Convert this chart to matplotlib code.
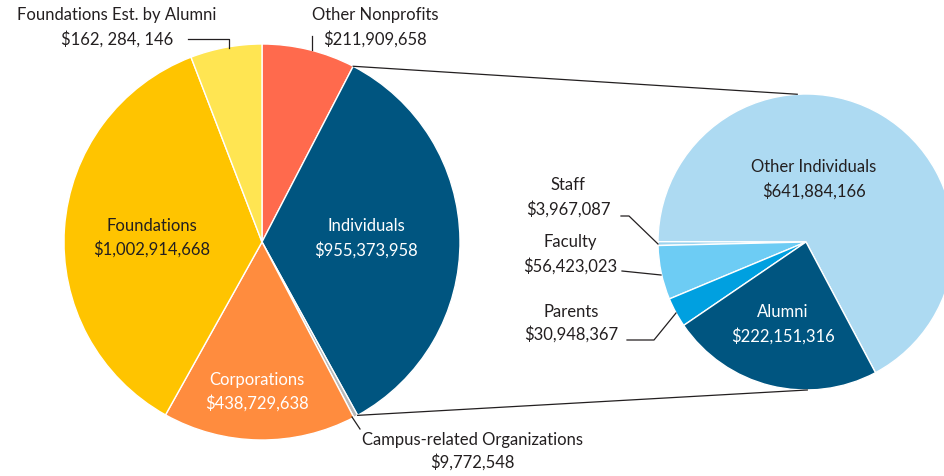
import numpy as np
import matplotlib

matplotlib.use("Agg")
import matplotlib.pyplot as plt

plt.rcParams["font.family"] = ["Lato", "DejaVu Sans"]

# left pie: all sources (clockwise from 12 o'clock)
src_names = ["Other Nonprofits", "Individuals", "Campus-related Organizations",
             "Corporations", "Foundations", "Foundations Est. by Alumni"]
src_values = [211909658, 955373958, 9772548, 438729638, 1002914668, 162284146]
src_colors = ["#FF6A4D", "#005580", "#B9B9B9", "#FF8C3E", "#FFC400", "#FFE552"]

# right pie: breakdown of individuals (counter-clockwise)
ind_names = ["Other Individuals", "Staff", "Faculty", "Parents", "Alumni"]
ind_values = [641884166, 3967087, 56423023, 30948367, 222151316]
ind_colors = ["#ADDAF2", "#9CD3EE", "#6DCCF4", "#00A0E0", "#005580"]

W, H = 944, 477
fig = plt.figure(figsize=(W / 100, H / 100), dpi=100)
ax = fig.add_axes([0, 0, 1, 1])

L_C, L_R = (262, H - 243), 198
R_C, R_R = (806, H - 243), 148

ax.pie(src_values, colors=src_colors, startangle=90, counterclock=False,
       center=L_C, radius=L_R, wedgeprops=dict(edgecolor="white", linewidth=1))
ax.pie(ind_values, colors=ind_colors, startangle=-62, counterclock=True,
       center=R_C, radius=R_R, wedgeprops=dict(edgecolor="white", linewidth=1))

ax.set_xlim(0, W)
ax.set_ylim(0, H)
ax.set_aspect("equal")
ax.axis("off")


def yy(y):
    return H - y


# connector lines from the Individuals wedge to the breakdown pie
frac = np.cumsum([0] + src_values) / sum(src_values)
a_top = np.deg2rad(90 - 360 * frac[1])
a_bot = np.deg2rad(90 - 360 * frac[2])
p_top = (L_C[0] + L_R * np.cos(a_top), L_C[1] + L_R * np.sin(a_top))
p_bot = (L_C[0] + L_R * np.cos(a_bot), L_C[1] + L_R * np.sin(a_bot))
q_top = (R_C[0] + R_R * np.cos(np.deg2rad(93.4)), R_C[1] + R_R * np.sin(np.deg2rad(93.4)))
q_bot = (R_C[0] + R_R * np.cos(np.deg2rad(-89.5)), R_C[1] + R_R * np.sin(np.deg2rad(-89.5)))
lk = dict(color="#231F20", lw=0.9)
ax.plot([p_top[0], q_top[0]], [p_top[1], q_top[1]], **lk)
ax.plot([p_bot[0], q_bot[0]], [p_bot[1], q_bot[1]], **lk)

# leader lines
ax.plot([188, 229, 229], [yy(40), yy(40), yy(49)], **lk)
ax.plot([312, 312], [yy(37), yy(51)], **lk)
ax.plot([352, 360], [yy(418), yy(430)], **lk)
ax.plot([621, 629, 658], [yy(217), yy(217), yy(245)], **lk)
ax.plot([622, 661], [yy(272), yy(276)], **lk)
ax.plot([627, 654, 676], [yy(341), yy(341), yy(314)], **lk)

dark, light = "#231F20", "white"
labels = [
    ("Foundations Est. by Alumni", "$162, 284, 146", 117, 15, 39, dark),
    ("Other Nonprofits", "$211,909,658", 375, 15, 39, dark),
    ("Individuals", "$955,373,958", 366, 226, 250, light),
    ("Corporations", "$438,729,638", 257, 380, 403, light),
    ("Foundations", "$1,002,914,668", 152, 226, 249, dark),
    ("Campus-related Organizations", "$9,772,548", 472, 440, 462, dark),
    ("Other Individuals", "$641,884,166", 814, 167, 191, dark),
    ("Alumni", "$222,151,316", 783, 312, 336, light),
    ("Staff", "$3,967,087", 568, 185, 209, dark),
    ("Faculty", "$56,423,023", 570, 242, 266, dark),
    ("Parents", "$30,948,367", 571, 312, 334, dark),
]
for name, amount, x, y1, y2, c in labels:
    ax.text(x, yy(y1), name, ha="center", va="center", fontsize=12, color=c)
    ax.text(x, yy(y2), amount, ha="center", va="center", fontsize=12, color=c)

fig.savefig("out.png", dpi=100)
